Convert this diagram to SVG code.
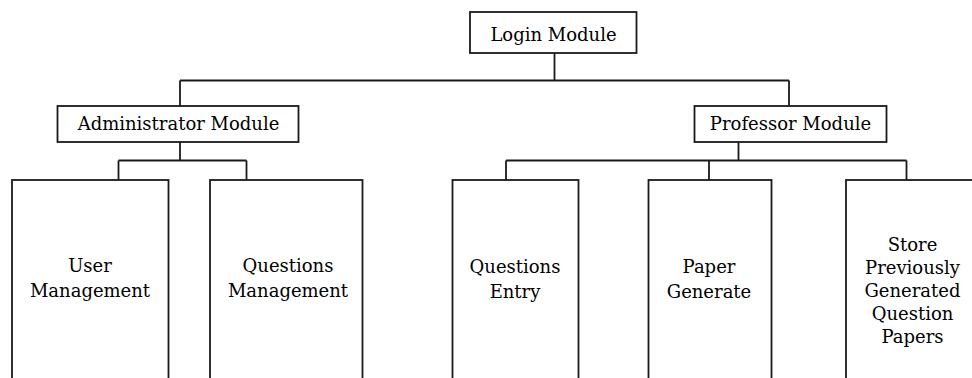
<svg xmlns="http://www.w3.org/2000/svg" width="972" height="378" viewBox="0 0 972 378">
<style>
.box{fill:#fff;stroke:#1a1a1a;stroke-width:1.8}
.ln{fill:none;stroke:#1a1a1a;stroke-width:1.8}
text{font-family:"DejaVu Serif","Liberation Serif",serif;font-size:18px;fill:#000;text-anchor:middle}
</style>
<rect width="972" height="378" fill="#fff"/>
<g id="connectors">
<path class="ln" d="M554.5 53 V80.5 M180 80.5 H789 M180 80.5 V106 M789 80.5 V106"/>
<path class="ln" d="M180 142 V160.5 M118.5 160.5 H246.5 M118.5 160.5 V180 M246.5 160.5 V180"/>
<path class="ln" d="M738.5 142 V160.5 M506 160.5 H906.5 M506 160.5 V180 M709 160.5 V180 M906.5 160.5 V180"/>
</g>
<g id="login"><rect class="box" x="470" y="12" width="166.5" height="41"/><text x="553.5" y="40.5">Login Module</text></g>
<g id="admin"><rect class="box" x="57.5" y="106" width="241" height="36"/><text x="178.5" y="129.5">Administrator Module</text></g>
<g id="professor"><rect class="box" x="694.5" y="106" width="192" height="36"/><text x="790.5" y="129.5">Professor Module</text></g>
<g id="user"><rect class="box" x="12" y="180" width="156.5" height="210"/><text x="90" y="272">User</text><text x="90" y="297">Management</text></g>
<g id="qmanage"><rect class="box" x="210" y="180" width="152.5" height="210"/><text x="288" y="272">Questions</text><text x="288" y="297">Management</text></g>
<g id="qentry"><rect class="box" x="452.5" y="180" width="126" height="210"/><text x="515" y="273">Questions</text><text x="515" y="297.5">Entry</text></g>
<g id="paper"><rect class="box" x="648.5" y="180" width="123" height="210"/><text x="709" y="273">Paper</text><text x="709" y="297.5">Generate</text></g>
<g id="store"><rect class="box" x="846" y="180" width="135" height="210"/><text x="912.5" y="251">Store</text><text x="912.5" y="274">Previously</text><text x="912.5" y="297">Generated</text><text x="912.5" y="320">Question</text><text x="912.5" y="343">Papers</text></g>
</svg>
